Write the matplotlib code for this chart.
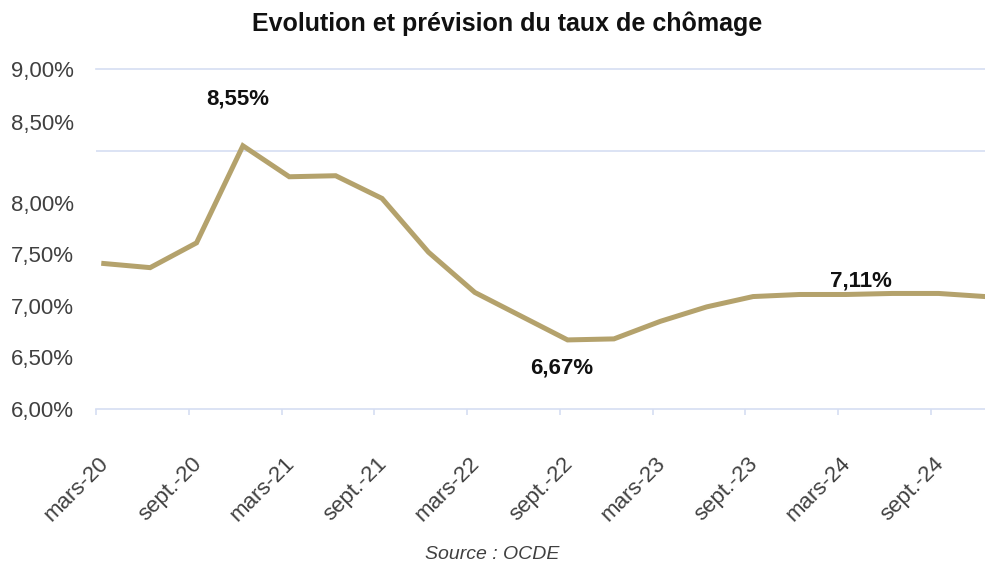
import matplotlib
matplotlib.use("Agg")
import matplotlib.pyplot as plt
from matplotlib.transforms import ScaledTranslation

plt.rcParams["font.family"] = ["Liberation Sans", "DejaVu Sans"]

# Quarterly unemployment rate (%), Q1 2020 -> Q4 2024
rates = [7.41, 7.37, 7.61, 8.55, 8.25, 8.26, 8.04, 7.52,
         7.13, 6.90, 6.67, 6.68, 6.85, 6.99, 7.09, 7.11,
         7.11, 7.12, 7.12, 7.09]
tick_labels = ["mars-20", "sept.-20", "mars-21", "sept.-21", "mars-22",
               "sept.-22", "mars-23", "sept.-23", "mars-24", "sept.-24"]
y_labels = ["6,00%", "6,50%", "7,00%", "7,50%", "8,00%", "8,50%", "9,00%"]
# annotated points: (index, text, offset in points)
notes = [(3, "8,55%", (-3.5, 34)), (10, "6,67%", (-4.5, -20)), (16, "7,11%", (11, 10))]

line_col = "#B4A26C"
grid_col = "#D5DEF2"

# month index from March 2020; data sit mid-month of each quarter start
months = [0.5 + 3 * i for i in range(len(rates))]
tick_pos = [6 * i for i in range(len(tick_labels))]

fig = plt.figure(figsize=(9.85, 5.69), dpi=100)
ax = fig.add_axes([0.0975, 0.281, 0.9025, 0.598])

ax.plot(months, rates, color=line_col, lw=3.6, solid_joinstyle="miter", zorder=3)

ymax = 9.295
ax.set_xlim(0, 57.5)
ax.set_ylim(6, ymax)

# gridlines (the original chart puts the two top labels off their lines)
ax.set_yticks([6.5, 7.0, 7.5, 8.0, 8.5], minor=True)
ax.grid(True, which="minor", axis="y", color=grid_col, lw=1.2)
ax.set_yticks([6.0, 6.5, 7.0, 7.5, 8.0, 8.78, ymax])
ax.set_yticklabels(y_labels)
ax.tick_params(axis="y", which="both", length=0, pad=16, labelsize=16, labelcolor="#404040")

ax.set_xticks(tick_pos)
ax.set_xticklabels(tick_labels, rotation=45, ha="right", va="center",
                   rotation_mode="anchor")
ax.tick_params(axis="x", length=4, width=1.2, color=grid_col, pad=33,
               labelsize=16, labelcolor="#404040")
for lbl in ax.get_xticklabels():
    lbl.set_transform(lbl.get_transform() + ScaledTranslation(7 / 72, 0, fig.dpi_scale_trans))

for side in ["left", "right"]:
    ax.spines[side].set_visible(False)
for side in ["top", "bottom"]:
    ax.spines[side].set_color(grid_col)
    ax.spines[side].set_linewidth(1.2)

for idx, txt, off in notes:
    ax.annotate(txt, (months[idx], rates[idx]), xytext=off, textcoords="offset points",
                ha="center", va="center", fontsize=16, fontweight="bold", color="#111111")

fig.text(0.515, 0.958, "Evolution et prévision du taux de chômage",
         ha="center", va="center", fontsize=18, fontweight="bold", color="#111111")
fig.text(0.5, 0.025, "Source : OCDE", ha="center", va="center",
         fontsize=14, style="italic", color="#404040")

fig.savefig("out.png", dpi=100)
